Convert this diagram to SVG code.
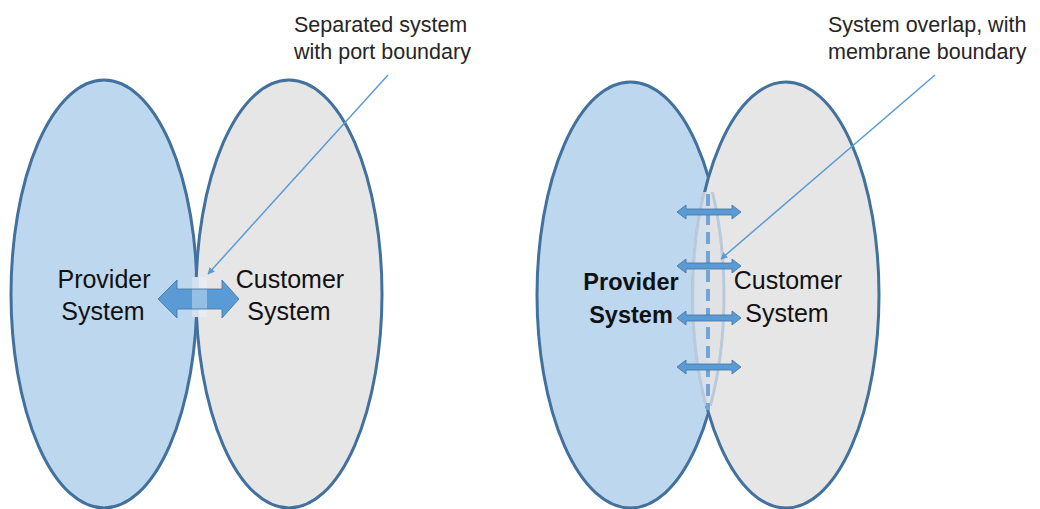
<svg xmlns="http://www.w3.org/2000/svg" width="1040" height="509" viewBox="0 0 1040 509">
<style>
.prov{fill:#BDD7EE}
.cust{fill:#E7E6E6}
.edge{stroke:#41719C;stroke-width:3}
.faint{fill:none;stroke:#B9CADB;stroke-width:3}
.arr{fill:#5B9BD5;stroke:#41719C;stroke-width:0.8}
.ptr{fill:none;stroke:#5B9BD5;stroke-width:1.5}
.lbl{font-family:"Liberation Sans",Arial,sans-serif;font-size:25px;fill:#111;text-anchor:middle}
.bold{font-weight:bold;font-size:23.5px}
.note{font-family:"Liberation Sans",Arial,sans-serif;font-size:21.5px;fill:#262626}
</style>
<defs>
<marker id="ah" viewBox="0 0 10 10" refX="9" refY="5" markerWidth="7" markerHeight="7" orient="auto" markerUnits="userSpaceOnUse">
<path d="M0,0 L10,5 L0,10 z" fill="#5B9BD5"/>
</marker>
<linearGradient id="lensg" x1="0" y1="0" x2="1" y2="0">
<stop offset="0" stop-color="#D3DFEB"/>
<stop offset="0.5" stop-color="#D9E1EA"/>
<stop offset="0.5" stop-color="#E0E2E5"/>
<stop offset="1" stop-color="#E3E3E5"/>
</linearGradient>
<clipPath id="midclip"><rect x="600" y="192" width="200" height="214"/></clipPath>
</defs>

<!-- Left diagram -->
<g id="provider-left">
<ellipse class="prov edge" cx="104" cy="294" rx="93" ry="214"/>
<text class="lbl" x="104" y="288">Provider</text>
<text class="lbl" x="103" y="320">System</text>
</g>
<g id="customer-left">
<ellipse class="cust edge" cx="289" cy="294" rx="93" ry="214"/>
<text class="lbl" x="290" y="288">Customer</text>
<text class="lbl" x="289" y="320">System</text>
</g>
<g id="port">
<rect x="192" y="277" width="7" height="40" fill="#D3E1EE"/>
<rect x="199" y="277" width="8" height="40" fill="#E6ECF1"/>
<path class="arr" d="M158,299 L177,280 L177,289 L222,289 L222,280 L239,299 L222,318 L222,309 L177,309 L177,318 Z"/>
<rect x="192" y="289.5" width="15" height="19" fill="#FFFFFF" opacity="0.35"/>
</g>

<!-- Right diagram -->
<g id="provider-right">
<ellipse class="prov edge" cx="630.5" cy="295" rx="93.5" ry="213"/>
<text class="lbl bold" x="631" y="290">Provider</text>
<text class="lbl bold" x="631" y="323">System</text>
</g>
<g id="customer-right">
<ellipse class="cust edge" cx="786" cy="295" rx="93" ry="213"/>
<text class="lbl" x="788" y="289">Customer</text>
<text class="lbl" x="787" y="322">System</text>
</g>
<g id="membrane">
<g clip-path="url(#midclip)">
<path d="M708.25,176.7 A93.5,213 0 0 1 708.25,413.3 A93,213 0 0 1 708.25,176.7 Z" fill="url(#lensg)"/>
<path class="faint" d="M708.25,176.7 A93.5,213 0 0 1 708.25,413.3"/>
<path class="faint" d="M708.25,176.7 A93,213 0 0 0 708.25,413.3"/>
</g>
<line x1="708" y1="194" x2="708" y2="410" stroke="#74A3D4" stroke-width="4" stroke-dasharray="12 7"/>
<path class="arr" d="M677,212 L686,205 L686,209 L732,209 L732,205 L741,212 L732,219 L732,215 L686,215 L686,219 Z"/>
<path class="arr" d="M677,266 L686,259 L686,263 L732,263 L732,259 L741,266 L732,273 L732,269 L686,269 L686,273 Z"/>
<path class="arr" d="M677,318 L686,311 L686,315 L732,315 L732,311 L741,318 L732,325 L732,321 L686,321 L686,325 Z"/>
<path class="arr" d="M677,367 L686,360 L686,364 L732,364 L732,360 L741,367 L732,374 L732,370 L686,370 L686,374 Z"/>
</g>

<!-- Annotations -->
<g id="note-left">
<text class="note" x="294" y="32">Separated system</text>
<text class="note" x="294" y="59">with port boundary</text>
</g>
<g id="note-right">
<text class="note" x="828" y="32">System overlap, with</text>
<text class="note" x="828" y="59">membrane boundary</text>
</g>
<g id="connectors">
<line class="ptr" x1="388" y1="75" x2="208" y2="274" marker-end="url(#ah)"/>
<line class="ptr" x1="935" y1="75" x2="721" y2="259" marker-end="url(#ah)"/>
</g>
</svg>
